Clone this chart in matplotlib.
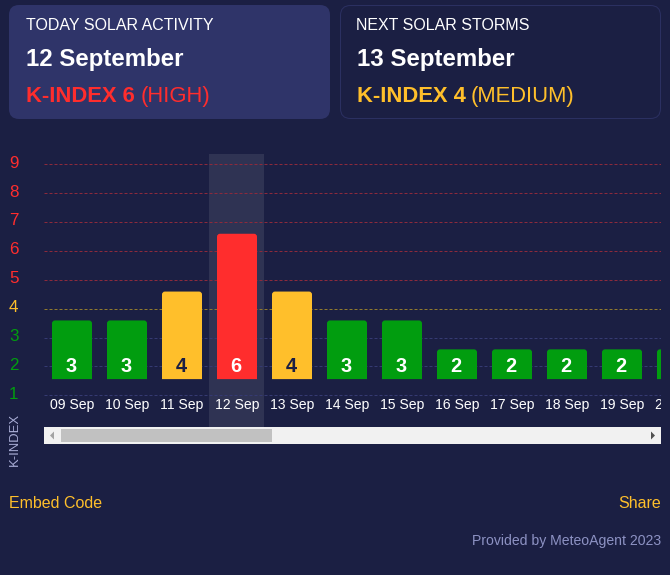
import matplotlib
matplotlib.use('Agg')
import matplotlib.pyplot as plt
from matplotlib.patches import FancyBboxPatch, PathPatch, Rectangle, Polygon
from matplotlib.path import Path
from matplotlib.transforms import ScaledTranslation

plt.rcParams['font.family'] = ['Liberation Sans', 'DejaVu Sans']

dates = ['09 Sep', '10 Sep', '11 Sep', '12 Sep', '13 Sep', '14 Sep', '15 Sep',
         '16 Sep', '17 Sep', '18 Sep', '19 Sep', '20 Sep']
kindex = [3, 3, 4, 6, 4, 3, 3, 2, 2, 2, 2, 2]
levels = [1, 2, 3, 4, 5, 6, 7, 8, 9]
today = '12 Sep'

BG = '#1b1f43'
GREEN = '#019d0f'
YELLOW = '#ffbf2b'
RED = '#ff2d2d'

def px(n):
    # css pixels to points
    return n * 0.72

def level_color(k):
    if k < 4:
        return GREEN
    if k == 4:
        return YELLOW
    return RED

def grid_color(k):
    if k < 4:
        return '#353a72'
    if k == 4:
        return '#917a2e'
    return '#8c2a3c'

fig = plt.figure(figsize=(6.7, 5.75), dpi=100, facecolor=BG)

# page furniture, drawn in pixel coordinates
ui = fig.add_axes([0, 0, 1, 1])
ui.set_xlim(0, 670)
ui.set_ylim(575, 0)
ui.axis('off')

ui.add_patch(FancyBboxPatch((9, 5), 321, 114, boxstyle='round,pad=0,rounding_size=10',
                            fc='#2f3469', ec='none'))
ui.add_patch(FancyBboxPatch((340.5, 5.5), 320, 113, boxstyle='round,pad=0,rounding_size=10',
                            fc=BG, ec='#2b3061', lw=0.72))

ui.text(25.5, 30, 'TODAY SOLAR ACTIVITY', color='white', fontsize=px(16))
ui.text(26, 66, '12 September', color='white', fontsize=px(24), fontweight='bold')
ui.text(26, 102, 'K-INDEX 6', color=RED, fontsize=px(22), fontweight='bold')
ui.text(141, 102, '(HIGH)', color=RED, fontsize=px(22))

ui.text(356, 30, 'NEXT SOLAR STORMS', color='white', fontsize=px(16))
ui.text(357, 66, '13 September', color='white', fontsize=px(24), fontweight='bold')
ui.text(357, 102, 'K-INDEX 4', color=YELLOW, fontsize=px(22), fontweight='bold')
ui.text(471, 102, '(MEDIUM)', color=YELLOW, fontsize=px(22))

ui.text(9, 508, 'Embed Code', color=YELLOW, fontsize=px(16))
ui.text(661, 508, 'Share', color=YELLOW, fontsize=px(16), ha='right')
ui.text(661, 545, 'Provided by MeteoAgent 2023', color='#8d92c3', fontsize=px(14), ha='right')
ui.text(15, 466, 'K-INDEX', color='#a9add6', fontsize=px(13), rotation=90,
        ha='center', va='bottom')

# scrollbar
ui.add_patch(Rectangle((44, 427), 617, 17, fc='#f1f1f1', ec='none'))
ui.add_patch(Rectangle((61, 429), 211, 13, fc='#c1c1c1', ec='none'))
ui.add_patch(Polygon([[50, 435.5], [54, 431.5], [54, 439.5]], fc='#a3a3a3', ec='none'))
ui.add_patch(Polygon([[655, 435.5], [651, 431.5], [651, 439.5]], fc='#505050', ec='none'))

# chart
ax = fig.add_axes([44 / 670, 1 - 427 / 575, 617 / 670, 273 / 575])
ax.patch.set_alpha(0)
ax.set_xlim(-0.509, 10.709)
ax.set_ylim(-0.097, 9.35)
for s in ax.spines.values():
    s.set_visible(False)

ax.axvspan(dates.index(today) - 0.5, dates.index(today) + 0.5, color='white', alpha=0.09,
           lw=0, zorder=1)
for k in levels:
    ax.axhline(k, color=grid_color(k), lw=0.72, dashes=(3, 2), zorder=2)

base = 1.56
bar_w = 40 / 55
rx = 3 / 55
ry = 3 / 28.9
for i, k in enumerate(kindex):
    x0 = i - bar_w / 2
    x1 = i + bar_w / 2
    top = k + 0.59
    verts = [(x0, base), (x0, top - ry), (x0, top), (x0 + rx, top), (x1 - rx, top),
             (x1, top), (x1, top - ry), (x1, base), (x0, base)]
    codes = [Path.MOVETO, Path.LINETO, Path.CURVE3, Path.CURVE3, Path.LINETO,
             Path.CURVE3, Path.CURVE3, Path.LINETO, Path.CLOSEPOLY]
    ax.add_patch(PathPatch(Path(verts, codes), fc=level_color(k), ec='none', zorder=3))
    tc = BG if k == 4 else 'white'
    ax.annotate(str(k), (i, base), xytext=(px(-0.7), px(7.5)), textcoords='offset points',
                ha='center', va='baseline', color=tc, fontsize=px(20), fontweight='bold',
                zorder=4)
    ax.annotate(dates[i], (i, base), xytext=(0, px(-30)), textcoords='offset points',
                ha='center', va='baseline', color='white', fontsize=px(14), zorder=4,
                annotation_clip=False, clip_on=True)

ax.set_xticks([])
ax.set_yticks(levels)
ax.set_yticklabels([str(k) for k in levels], fontsize=px(17))
ax.tick_params(axis='y', length=0, pad=px(25.5))
shift = ScaledTranslation(0, 2.5 / 100, fig.dpi_scale_trans)
for lab, k in zip(ax.get_yticklabels(), levels):
    lab.set_color(level_color(k))
    lab.set_transform(lab.get_transform() + shift)

plt.savefig('out.png', dpi=100, facecolor=BG)
